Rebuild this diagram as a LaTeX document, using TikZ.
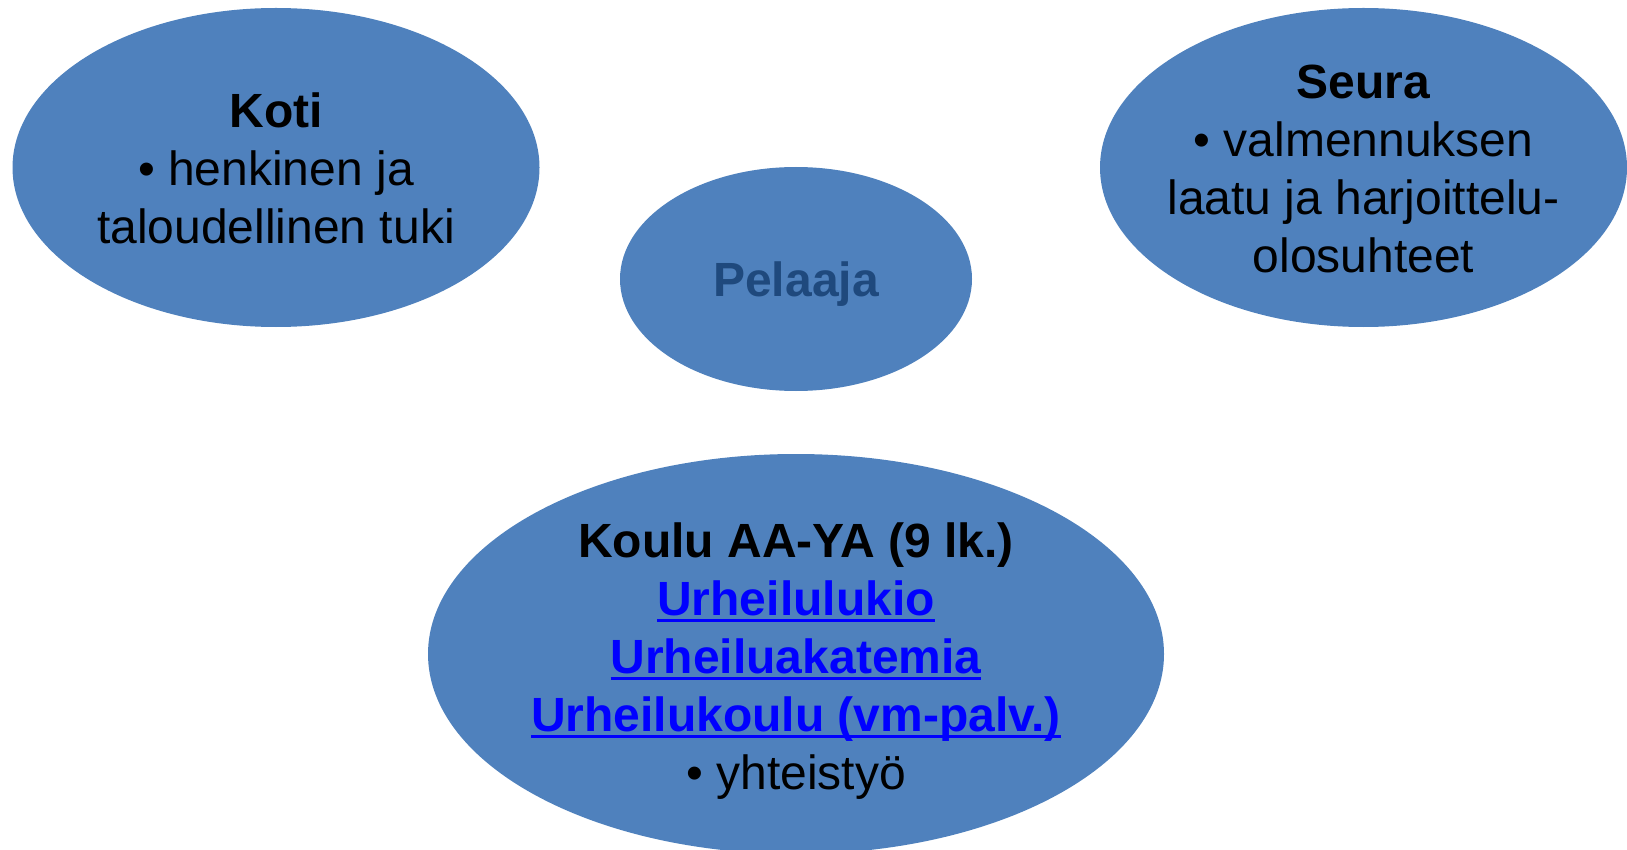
\documentclass[tikz,border=0pt]{standalone}
\usepackage{fontspec}
\setmainfont{Liberation Sans}
\usetikzlibrary{shapes.geometric}
\definecolor{blobfill}{HTML}{4F81BD}
\definecolor{pltext}{HTML}{1F497D}
\definecolor{linkblue}{HTML}{0000FF}
\newcommand\lnk[1]{\setbox0\hbox{#1}\rlap{\raisebox{-7pt}{\rule{\wd0}{3.2pt}}}\box0}
\tikzset{
  blob/.style={ellipse, fill=blobfill, draw=none, inner sep=0pt},
  txt/.style={align=center, inner sep=0pt, font=\fontsize{48}{58}\selectfont},
}
\begin{document}
\begin{tikzpicture}[x=1pt, y=-1pt]
\useasboundingbox (0,0) rectangle (1627,850);
\node[blob, minimum width=527pt, minimum height=319pt] (koti) at (276,167.5) {};
\node[blob, minimum width=527pt, minimum height=319pt] (seura) at (1363.5,167.5) {};
\node[blob, minimum width=352pt, minimum height=224pt] (pelaaja) at (796,279) {};
\node[blob, minimum width=736pt, minimum height=400pt] (koulu) at (796,654) {};
\node[txt] (kotitxt) at ([yshift=-1pt]koti.center) {\textbf{Koti}\\• henkinen ja\\taloudellinen tuki};
\node[txt] (seuratxt) at ([yshift=-1.5pt]seura.center) {\textbf{Seura}\\• valmennuksen\\laatu ja harjoittelu-\\olosuhteet};
\node[txt, text=pltext, font=\fontsize{48}{58}\selectfont\bfseries] (pelaajatxt) at ([yshift=-5pt]pelaaja.center) {Pelaaja};
\node[txt] (koulutxt) at ([yshift=-7pt]koulu.center) {\textbf{Koulu AA-YA (9 lk.)}\\
  \textcolor{linkblue}{\bfseries\lnk{Urheilulukio}}\\
  \textcolor{linkblue}{\bfseries\lnk{Urheiluakatemia}}\\
  \textcolor{linkblue}{\bfseries\lnk{Urheilukoulu (vm-palv.)}}\\
  • yhteistyö};
\end{tikzpicture}
\end{document}
